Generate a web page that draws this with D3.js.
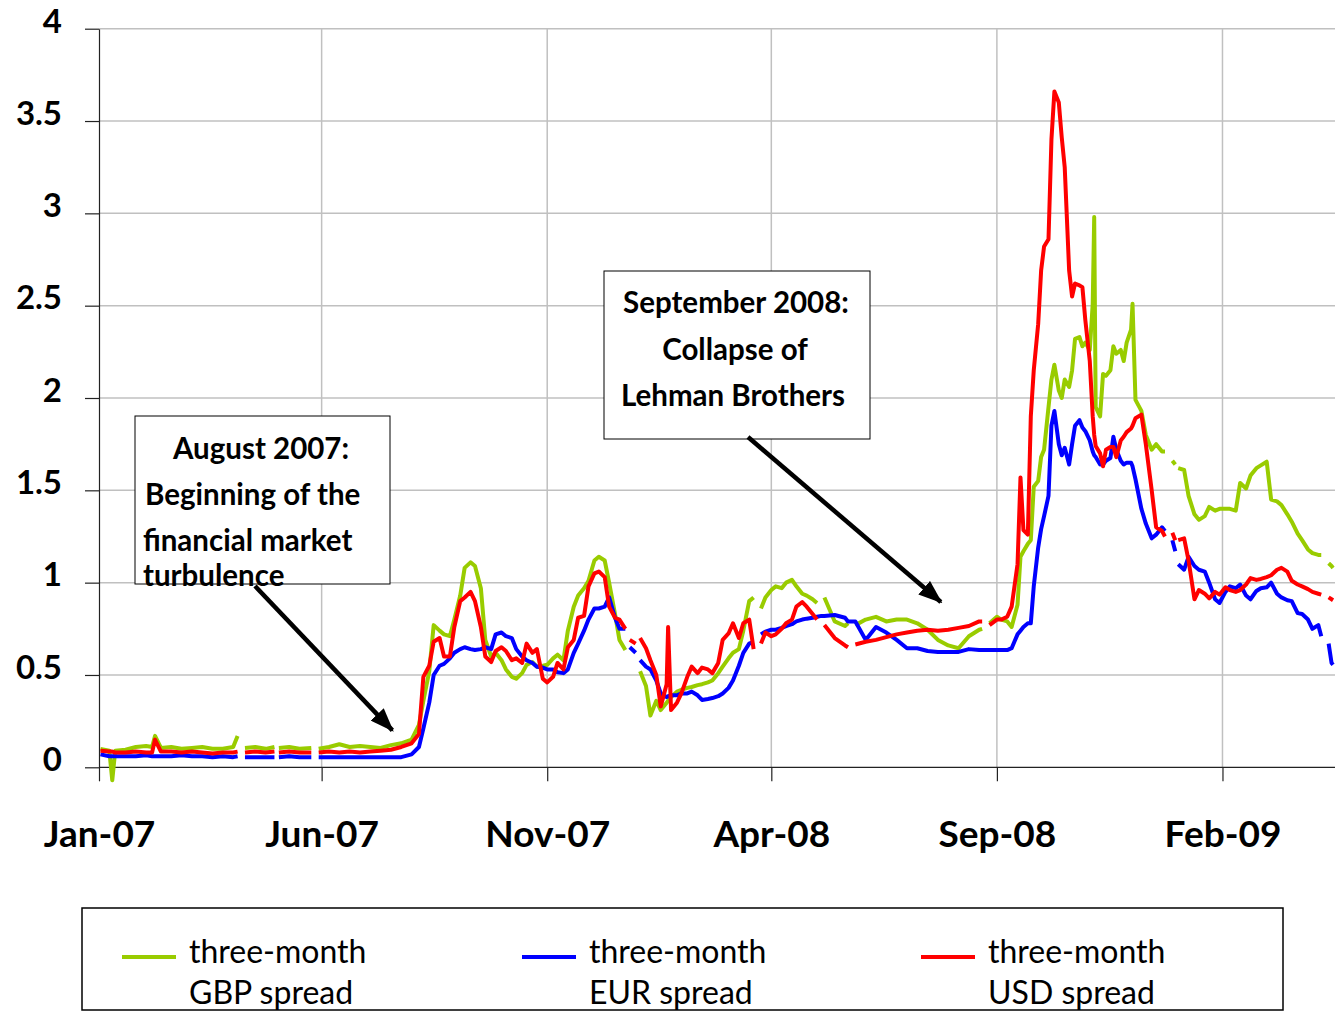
<!DOCTYPE html>
<html>
<head>
<meta charset="utf-8">
<script src="https://d3js.org/d3.v7.min.js"></script>
<style>
  body { margin: 0; background: #fff; }
  svg { display: block; font-family: Lato, "Open Sans", sans-serif; }
  .grid line { stroke: #c0c0c0; stroke-width: 1.5; }
  .axis path, .axis line { stroke: #222; stroke-width: 1.2; }
  .axis text { font-family: Lato, sans-serif; font-weight: 700; fill: #000; }
</style>
</head>
<body>
<svg id="chart" width="1335" height="1012"></svg>
<script>
// observation dates; a null value means a break in that series (holidays)
var dates = [
  "2007-01-02","2007-01-08","2007-01-10","2007-01-12","2007-01-19","2007-01-26","2007-02-02","2007-02-06","2007-02-08","2007-02-12",
  "2007-02-19","2007-02-26","2007-03-05","2007-03-12","2007-03-19","2007-03-26","2007-04-02","2007-04-05","2007-04-06","2007-04-10",
  "2007-04-17","2007-04-24","2007-04-30","2007-05-01","2007-05-03","2007-05-10","2007-05-17","2007-05-25","2007-05-28","2007-05-30",
  "2007-06-06","2007-06-13","2007-06-20","2007-06-27","2007-07-04","2007-07-11","2007-07-18","2007-07-25","2007-08-01","2007-08-06",
  "2007-08-09","2007-08-13","2007-08-16","2007-08-20","2007-08-23","2007-08-27","2007-08-30","2007-09-03","2007-09-06","2007-09-10",
  "2007-09-13","2007-09-17","2007-09-20","2007-09-24","2007-09-27","2007-10-01","2007-10-04","2007-10-08","2007-10-11","2007-10-15",
  "2007-10-18","2007-10-22","2007-10-25","2007-10-29","2007-11-01","2007-11-05","2007-11-08","2007-11-12","2007-11-15","2007-11-19",
  "2007-11-22","2007-11-26","2007-11-29","2007-12-03","2007-12-06","2007-12-10","2007-12-13","2007-12-17","2007-12-20","2007-12-24",
  "2007-12-25","2007-12-27","2007-12-31","2008-01-01","2008-01-03","2008-01-07","2008-01-10","2008-01-14","2008-01-17","2008-01-21",
  "2008-01-22","2008-01-24","2008-01-28","2008-01-31","2008-02-04","2008-02-07","2008-02-11","2008-02-14","2008-02-18","2008-02-21",
  "2008-02-25","2008-02-28","2008-03-03","2008-03-06","2008-03-10","2008-03-13","2008-03-17","2008-03-20","2008-03-21","2008-03-25",
  "2008-03-28","2008-04-01","2008-04-04","2008-04-08","2008-04-11","2008-04-15","2008-04-18","2008-04-22","2008-04-25","2008-04-29",
  "2008-05-02","2008-05-05","2008-05-07","2008-05-14","2008-05-21","2008-05-23","2008-05-26","2008-05-28","2008-06-04","2008-06-11",
  "2008-06-18","2008-06-25","2008-07-02","2008-07-09","2008-07-16","2008-07-23","2008-07-30","2008-08-06","2008-08-13","2008-08-20",
  "2008-08-22","2008-08-25","2008-08-27","2008-09-01","2008-09-04","2008-09-08","2008-09-11","2008-09-15","2008-09-17","2008-09-19",
  "2008-09-22","2008-09-24","2008-09-26","2008-09-29","2008-10-01","2008-10-03","2008-10-06","2008-10-08","2008-10-10","2008-10-13",
  "2008-10-15","2008-10-17","2008-10-20","2008-10-22","2008-10-24","2008-10-27","2008-10-29","2008-10-31","2008-11-03","2008-11-05",
  "2008-11-06","2008-11-07","2008-11-10","2008-11-12","2008-11-14","2008-11-17","2008-11-19","2008-11-21","2008-11-24","2008-11-26",
  "2008-11-28","2008-12-01","2008-12-02","2008-12-04","2008-12-08","2008-12-11","2008-12-15","2008-12-18","2008-12-22","2008-12-24",
  "2008-12-25","2008-12-29","2008-12-31","2009-01-01","2009-01-02","2009-01-06","2009-01-09","2009-01-13","2009-01-16","2009-01-20",
  "2009-01-23","2009-01-27","2009-01-30","2009-02-03","2009-02-06","2009-02-10","2009-02-13","2009-02-17","2009-02-20","2009-02-24",
  "2009-02-27","2009-03-03","2009-03-06","2009-03-10","2009-03-13","2009-03-17","2009-03-20","2009-03-24","2009-03-27","2009-03-31",
  "2009-04-03","2009-04-07","2009-04-09","2009-04-10","2009-04-14","2009-04-16","2009-04-17"
];

// three-month GBP spread
var gbp = [
  0.10, 0.09, -0.07, 0.09, 0.095, 0.11, 0.115, 0.11, 0.17, 0.105,
  0.11, 0.10, 0.105, 0.11, 0.10, 0.10, 0.11, 0.17, null, 0.105,
  0.11, 0.10, 0.11, null, 0.105, 0.11, 0.10, 0.105, null, 0.10,
  0.11, 0.125, 0.11, 0.115, 0.11, 0.105, 0.12, 0.13, 0.15, 0.23,
  0.36, 0.52, 0.77, 0.74, 0.72, 0.71, 0.80, 0.93, 1.08, 1.11,
  1.09, 0.97, 0.69, 0.60, 0.62, 0.58, 0.53, 0.49, 0.48, 0.51,
  0.555, 0.57, 0.545, 0.55, 0.555, 0.59, 0.61, 0.58, 0.74, 0.87,
  0.93, 0.97, 1.01, 1.12, 1.14, 1.12, 1.00, 0.83, 0.69, 0.635,
  null, null, null, null, 0.52, 0.44, 0.28, 0.36, 0.31, 0.35,
  0.36, 0.38, 0.41, 0.42, 0.43, 0.435, 0.445, 0.45, 0.46, 0.47,
  0.51, 0.545, 0.59, 0.62, 0.64, 0.74, 0.90, 0.92, null, 0.86,
  0.92, 0.96, 0.98, 0.97, 1.00, 1.015, 0.98, 0.94, 0.93, 0.91,
  0.89, null, 0.92, 0.79, 0.765, 0.78, null, 0.77, 0.80, 0.815,
  0.79, 0.80, 0.80, 0.78, 0.745, 0.69, 0.66, 0.645, 0.71, 0.745,
  0.75, null, 0.78, 0.815, 0.80, 0.79, 0.76, 0.88, 1.14, 1.17,
  1.21, 1.23, 1.52, 1.55, 1.68, 1.72, 1.95, 2.10, 2.18, 2.04,
  2.00, 2.10, 2.06, 2.15, 2.32, 2.33, 2.28, 2.30, 2.26, 2.51,
  2.98, 1.95, 1.90, 2.13, 2.12, 2.15, 2.28, 2.24, 2.26, 2.20,
  2.30, 2.37, 2.51, 1.99, 1.93, 1.80, 1.72, 1.75, 1.71, 1.71,
  null, 1.66, 1.64, null, 1.62, 1.61, 1.47, 1.37, 1.34, 1.36,
  1.41, 1.39, 1.40, 1.40, 1.40, 1.39, 1.54, 1.51, 1.58, 1.62,
  1.635, 1.655, 1.45, 1.44, 1.42, 1.37, 1.33, 1.265, 1.23, 1.18,
  1.16, 1.15, 1.15, null, 1.105, 1.09, 1.08
];

// three-month EUR spread
var eur = [
  0.07, 0.06, 0.06, 0.06, 0.06, 0.06, 0.065, 0.06, 0.06, 0.06,
  0.06, 0.065, 0.06, 0.06, 0.055, 0.06, 0.055, 0.06, null, 0.055,
  0.055, 0.055, 0.055, null, 0.055, 0.06, 0.055, 0.055, null, 0.055,
  0.055, 0.055, 0.055, 0.055, 0.055, 0.055, 0.055, 0.055, 0.07, 0.11,
  0.21, 0.35, 0.50, 0.55, 0.56, 0.59, 0.62, 0.64, 0.65, 0.64,
  0.635, 0.64, 0.65, 0.64, 0.72, 0.73, 0.71, 0.70, 0.64, 0.60,
  0.58, 0.565, 0.545, 0.54, 0.53, 0.53, 0.515, 0.51, 0.53, 0.62,
  0.67, 0.74, 0.80, 0.86, 0.86, 0.87, 0.92, 0.81, 0.75, 0.75,
  null, 0.65, 0.62, null, 0.58, 0.545, 0.53, 0.47, 0.40, 0.38,
  0.385, 0.39, 0.39, 0.40, 0.40, 0.41, 0.39, 0.365, 0.37, 0.375,
  0.385, 0.40, 0.43, 0.47, 0.55, 0.62, 0.67, 0.68, null, 0.72,
  0.735, 0.745, 0.745, 0.755, 0.765, 0.775, 0.79, 0.80, 0.805, 0.81,
  0.815, 0.82, 0.82, 0.825, 0.81, 0.79, 0.79, 0.79, 0.69, 0.76,
  0.73, 0.69, 0.645, 0.645, 0.63, 0.625, 0.625, 0.625, 0.64, 0.635,
  0.635, 0.635, 0.635, 0.635, 0.635, 0.635, 0.645, 0.72, 0.74, 0.76,
  0.78, 0.78, 0.98, 1.19, 1.29, 1.36, 1.47, 1.85, 1.93, 1.75,
  1.69, 1.73, 1.64, 1.75, 1.85, 1.88, 1.84, 1.82, 1.77, 1.71,
  1.69, 1.68, 1.64, 1.64, 1.66, 1.675, 1.79, 1.72, 1.66, 1.64,
  1.65, 1.65, 1.63, 1.56, 1.40, 1.32, 1.24, 1.26, 1.30, 1.28,
  null, 1.23, 1.17, null, 1.10, 1.07, 1.14, 1.09, 1.07, 1.06,
  1.00, 0.91, 0.89, 0.95, 0.98, 0.97, 0.99, 0.93, 0.91, 0.955,
  0.97, 0.975, 1.00, 0.94, 0.92, 0.905, 0.90, 0.835, 0.83, 0.80,
  0.75, 0.77, 0.71, null, 0.67, 0.565, 0.555
];

// three-month USD spread
var usd = [
  0.09, 0.085, 0.085, 0.08, 0.08, 0.085, 0.08, 0.08, 0.15, 0.085,
  0.085, 0.08, 0.085, 0.08, 0.075, 0.08, 0.08, 0.085, null, 0.08,
  0.085, 0.08, 0.085, null, 0.08, 0.085, 0.08, 0.08, null, 0.08,
  0.085, 0.08, 0.085, 0.08, 0.085, 0.09, 0.095, 0.11, 0.13, 0.18,
  0.49, 0.55, 0.68, 0.70, 0.60, 0.60, 0.76, 0.90, 0.92, 0.95,
  0.90, 0.76, 0.60, 0.57, 0.63, 0.65, 0.63, 0.58, 0.59, 0.565,
  0.67, 0.62, 0.64, 0.48, 0.46, 0.49, 0.565, 0.53, 0.65, 0.69,
  0.81, 0.82, 0.98, 1.05, 1.06, 1.03, 0.87, 0.81, 0.80, 0.75,
  null, 0.69, 0.67, null, 0.70, 0.645, 0.58, 0.50, 0.33, 0.45,
  0.76, 0.31, 0.35, 0.40, 0.49, 0.545, 0.51, 0.54, 0.53, 0.51,
  0.565, 0.69, 0.725, 0.78, 0.70, 0.78, 0.80, 0.64, null, 0.67,
  0.73, 0.71, 0.72, 0.75, 0.78, 0.80, 0.87, 0.895, 0.87, 0.83,
  0.80, null, 0.77, 0.70, 0.66, 0.65, null, 0.665, 0.68, 0.69,
  0.705, 0.72, 0.73, 0.74, 0.745, 0.74, 0.745, 0.755, 0.765, 0.79,
  0.79, null, 0.77, 0.80, 0.80, 0.815, 0.87, 1.10, 1.57, 1.285,
  1.26, 1.90, 2.15, 2.40, 2.69, 2.82, 2.86, 3.40, 3.66, 3.60,
  3.41, 3.25, 2.69, 2.55, 2.62, 2.61, 2.60, 2.42, 2.20, 1.90,
  1.80, 1.74, 1.70, 1.63, 1.72, 1.735, 1.735, 1.68, 1.77, 1.79,
  1.815, 1.835, 1.85, 1.89, 1.91, 1.75, 1.50, 1.30, 1.28, 1.25,
  null, 1.27, 1.23, null, 1.23, 1.24, 1.12, 0.91, 0.96, 0.94,
  0.915, 0.95, 0.935, 0.975, 0.96, 0.95, 0.96, 0.99, 1.025, 1.015,
  1.02, 1.03, 1.04, 1.07, 1.08, 1.06, 1.01, 0.99, 0.98, 0.965,
  0.95, 0.94, 0.935, null, 0.92, 0.91, 0.905
];

var yTicks = [0, 0.5, 1, 1.5, 2, 2.5, 3, 3.5, 4];
var xTickDates = ["2007-01-01", "2007-06-01", "2007-11-01", "2008-04-01", "2008-09-01", "2009-02-01"];
var xTickLabels = ["Jan-07", "Jun-07", "Nov-07", "Apr-08", "Sep-08", "Feb-09"];

var seriesLabels = [["three-month", "GBP spread"], ["three-month", "EUR spread"], ["three-month", "USD spread"]];
var seriesColors = ["#99cc00", "#0000ff", "#ff0000"];

var note1Lines = ["August 2007:", "Beginning of the", "financial market", "turbulence"];
var note1Target = ["2007-07-19", 0.2];
var note2Lines = ["September 2008:", "Collapse of", "Lehman Brothers"];
var note2Target = ["2008-07-25", 0.895];

var parse = d3.timeParse("%Y-%m-%d");
var svg = d3.select("#chart");

var x = d3.scaleTime()
  .domain([new Date(2007, 0, 1), new Date(2009, 3, 19)])
  .range([99, 1336]);
var y = d3.scaleLinear().domain([0, 4]).range([767.3, 28.7]);

// grid
var grid = svg.append("g").attr("class", "grid");
grid.selectAll("line.h")
  .data(yTicks.slice(1))
  .enter().append("line")
  .attr("x1", 99).attr("x2", 1335)
  .attr("y1", function(d) { return y(d); })
  .attr("y2", function(d) { return y(d); });
grid.selectAll("line.v")
  .data(xTickDates.slice(1))
  .enter().append("line")
  .attr("x1", function(d) { return x(parse(d)); })
  .attr("x2", function(d) { return x(parse(d)); })
  .attr("y1", y(4)).attr("y2", y(0));

// axes
var yAxis = d3.axisLeft(y)
  .tickValues(yTicks)
  .tickSize(14)
  .tickSizeOuter(0)
  .tickPadding(23)
  .tickFormat(function(d) { return String(d); });
var gy = svg.append("g").attr("class", "axis")
  .attr("transform", "translate(99,0)")
  .call(yAxis);
gy.selectAll("text").attr("font-size", 33).attr("dy", "0.1em");

var xAxis = d3.axisBottom(x)
  .tickValues(xTickDates.map(parse))
  .tickSize(14)
  .tickSizeOuter(0)
  .tickPadding(66)
  .tickFormat(function(d, i) { return xTickLabels[i]; });
var gx = svg.append("g").attr("class", "axis")
  .attr("transform", "translate(0," + y(0) + ")")
  .call(xAxis);
gx.select(".domain").attr("d", "M99,0H1335");
gx.selectAll("text").attr("font-size", 37).attr("dy", 0);

// series
var line = d3.line()
  .defined(function(d) { return d[1] !== null; })
  .x(function(d) { return x(parse(d[0])); })
  .y(function(d) { return y(d[1]); });

[gbp, eur, usd].forEach(function(values, k) {
  svg.append("path")
    .datum(dates.map(function(d, i) { return [d, values[i]]; }))
    .attr("d", line)
    .attr("fill", "none")
    .attr("stroke", seriesColors[k])
    .attr("stroke-width", 4)
    .attr("stroke-linejoin", "round");
});

// annotations
var defs = svg.append("defs");
defs.append("marker")
  .attr("id", "head")
  .attr("markerUnits", "userSpaceOnUse")
  .attr("markerWidth", 24).attr("markerHeight", 18)
  .attr("refX", 22).attr("refY", 9)
  .attr("orient", "auto")
  .append("path").attr("d", "M0,0L24,9L0,18Z").attr("fill", "#000");

function arrow(x0, y0, target) {
  var x1 = x(parse(target[0])), y1 = y(target[1]);
  svg.append("line")
    .attr("x1", x0).attr("y1", y0).attr("x2", x1).attr("y2", y1)
    .attr("stroke", "#000").attr("stroke-width", 4.5)
    .attr("marker-end", "url(#head)");
}

function note(bx, by, bw, bh, lines, pos) {
  svg.append("rect")
    .attr("x", bx).attr("y", by).attr("width", bw).attr("height", bh)
    .attr("fill", "#fff").attr("stroke", "#000").attr("stroke-width", 1);
  lines.forEach(function(t, i) {
    svg.append("text")
      .attr("x", pos[i][0]).attr("y", pos[i][1])
      .attr("text-anchor", pos[i][2])
      .attr("font-size", 29.5).attr("font-weight", 700)
      .text(t);
  });
}

note(135, 416, 255, 168, note1Lines,
  [[261, 459, "middle"], [145, 505, "start"], [143, 551, "start"], [143, 586, "start"]]);
arrow(255, 586, note1Target);

note(604, 271, 266, 168, note2Lines,
  [[736, 313, "middle"], [735, 360, "middle"], [733, 406, "middle"]]);
arrow(748, 437, note2Target);

// legend
var legend = svg.append("g");
legend.append("rect")
  .attr("x", 82).attr("y", 908).attr("width", 1201).attr("height", 102)
  .attr("fill", "#fff").attr("stroke", "#000").attr("stroke-width", 1.5);
var legendX = [122, 522, 921];
seriesLabels.forEach(function(lab, k) {
  var lx = legendX[k];
  legend.append("line")
    .attr("x1", lx).attr("x2", lx + 54)
    .attr("y1", 957).attr("y2", 957)
    .attr("stroke", seriesColors[k]).attr("stroke-width", 4);
  legend.append("text").attr("x", lx + 67).attr("y", 963)
    .attr("font-size", 32).text(lab[0]);
  legend.append("text").attr("x", lx + 67).attr("y", 1004)
    .attr("font-size", 32).text(lab[1]);
});
</script>
</body>
</html>
